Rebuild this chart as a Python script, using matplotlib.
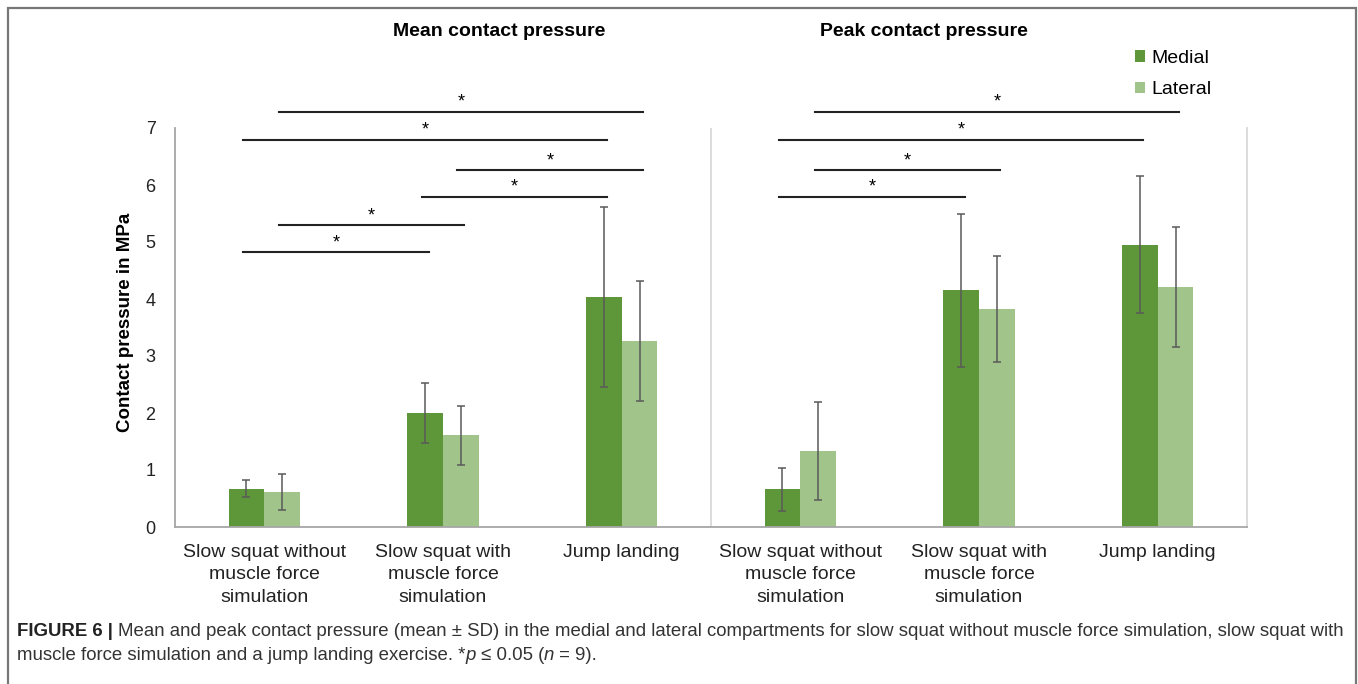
import matplotlib
matplotlib.use("Agg")
import matplotlib.pyplot as plt
import numpy as np
from matplotlib.patches import Rectangle

plt.rcParams['font.family'] = ['Liberation Sans', 'DejaVu Sans']

# data (MPa)
categories = ["Slow squat without\nmuscle force\nsimulation",
              "Slow squat with\nmuscle force\nsimulation",
              "Jump landing"] * 2
medial_mean = [0.67, 2.00, 4.03, 0.66, 4.15, 4.95]
medial_sd = [0.15, 0.53, 1.58, 0.38, 1.35, 1.20]
lateral_mean = [0.61, 1.61, 3.26, 1.34, 3.82, 4.21]
lateral_sd = [0.32, 0.52, 1.05, 0.86, 0.93, 1.05]
panel_titles = ["Mean contact pressure", "Peak contact pressure"]

# significance brackets: (series, from category, to category, height)
brackets = [
    ("lateral", 0, 2, 7.28),
    ("medial", 0, 2, 6.79),
    ("lateral", 1, 2, 6.26),
    ("medial", 1, 2, 5.79),
    ("lateral", 0, 1, 5.29),
    ("medial", 0, 1, 4.82),
    ("lateral", 3, 5, 7.28),
    ("medial", 3, 5, 6.79),
    ("lateral", 3, 4, 6.26),
    ("medial", 3, 4, 5.79),
]

col_med = "#5e973a"
col_lat = "#a0c48a"
W, H = 1358, 684

fig = plt.figure(figsize=(W / 100, H / 100), dpi=100)
ax = fig.add_axes([175 / W, 1 - 527 / H, 1072 / W, 399 / H])

x = np.arange(len(categories))
bw = 0.2
off = {"medial": -bw / 2, "lateral": bw / 2}
err_kw = dict(ecolor="#5a5a5a", elinewidth=1.1, capsize=3, capthick=1.1)
ax.bar(x + off["medial"], medial_mean, bw, yerr=medial_sd, color=col_med,
       label="Medial", error_kw=err_kw, zorder=2)
ax.bar(x + off["lateral"], lateral_mean, bw, yerr=lateral_sd, color=col_lat,
       label="Lateral", error_kw=err_kw, zorder=2)

ax.set_xlim(-0.5, 5.5)
ax.set_ylim(0, 7)
ax.set_yticks(range(8))
ax.set_xticks(x)
ax.set_xticklabels(categories, fontsize=14, linespacing=1.42)
ax.tick_params(axis="both", length=0, colors="#222222")
ax.tick_params(axis="y", pad=14, labelsize=13)
ax.tick_params(axis="x", pad=12)
for s in ["left", "bottom"]:
    ax.spines[s].set_color("#a6a6a6")
    ax.spines[s].set_linewidth(1.3)
ax.spines["top"].set_visible(False)
ax.spines["right"].set_color("#d9d9d9")
ax.spines["right"].set_linewidth(1.3)
ax.axvline(2.5, color="#d9d9d9", lw=1.3, zorder=1)

for series, a, b, h in brackets:
    x0 = a + off[series] - 0.02
    x1 = b + off[series] + 0.02
    ax.plot([x0, x1], [h, h], color="#222222", lw=1.5, clip_on=False)
    ax.text((x0 + x1) / 2, h + 0.02, "*", ha="center", va="bottom",
            fontsize=13, clip_on=False)

fig.text(125 / W, 1 - 322 / H, "Contact pressure in MPa", rotation=90,
         ha="center", va="center", fontsize=13.5, fontweight="bold")
fig.text(499 / W, 1 - 32 / H, panel_titles[0], ha="center", va="center",
         fontsize=14, fontweight="bold")
fig.text(924 / W, 1 - 32 / H, panel_titles[1], ha="center", va="center",
         fontsize=14, fontweight="bold")

fig.legend(loc="upper left", bbox_to_anchor=(1127 / W, 1 - 42 / H),
           frameon=False, fontsize=14, handlelength=0.55, handleheight=0.55,
           handletextpad=0.3, labelspacing=0.75, borderaxespad=0)

# outer frame
fig.add_artist(Rectangle((8 / W, -0.05), 1348 / W, 1.05 - 8 / H,
                         transform=fig.transFigure, fill=False,
                         edgecolor="#777777", lw=1.6))

# caption, built from consecutive runs
renderer = fig.canvas.get_renderer()


def caption_line(runs, x0, y):
    xp = x0
    for txt, style in runs:
        kw = dict(fontsize=13.4, color="#333333", va="center", ha="left")
        if style == "b":
            kw["fontweight"] = "bold"
            kw["color"] = "#222222"
        elif style == "i":
            kw["fontstyle"] = "italic"
        t = fig.text(xp / W, y, txt, **kw)
        bb = t.get_window_extent(renderer)
        xp += bb.width


caption_line([("FIGURE 6 | ", "b"),
              ("Mean and peak contact pressure (mean \u00b1 SD) in the medial and lateral "
               "compartments for slow squat without muscle force simulation, slow squat with", "")],
             17, 1 - 631 / H)
caption_line([("muscle force simulation and a jump landing exercise. *", ""),
              ("p", "i"), (" \u2264 0.05 (", ""), ("n", "i"), (" = 9).", "")],
             17, 1 - 655 / H)

fig.savefig("out.png", dpi=100)
